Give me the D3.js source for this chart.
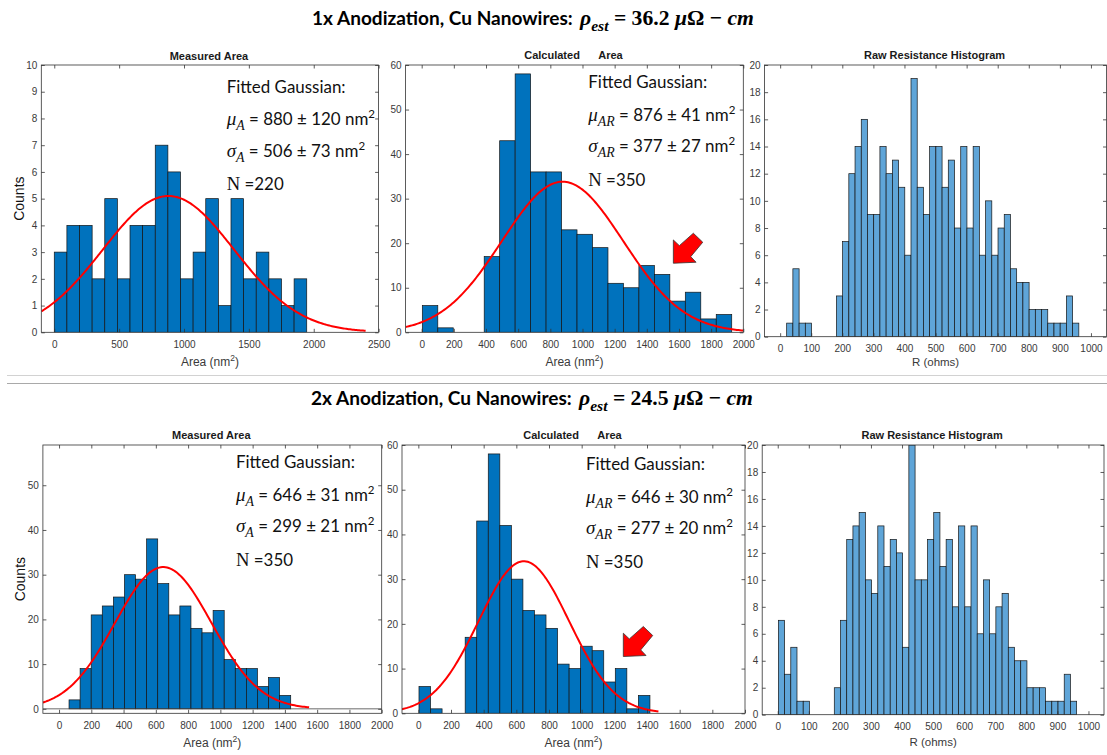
<!DOCTYPE html>
<html><head><meta charset="utf-8">
<script src="https://cdn.jsdelivr.net/npm/d3@7"></script>
<style>
html,body{margin:0;padding:0;background:#fff;}
svg{display:block;background:#fff;}
</style></head><body>
<svg id="chart" width="1107" height="755"></svg>
<script>
// ================= DATA =================
const measured1Counts   = [3,4,4,2,5,2,4,4,7,6,2,3,5,1,5,2,3,2,1,2];
const calculated1Counts = [6,1,0,0,17,43,58,36,36,23,22,19,11,10,15,13,7,9,3,4];
const resistance1Counts = [1,5,1,1,0,0,0,0,3,7,12,14,16,9,9,14,12,13,11,6,19,11,9,14,14,11,13,8,14,8,14,6,10,6,8,9,5,4,4,2,2,2,1,1,1,3,1];
const measured2Counts   = [2,9,21,23,25,30,29,38,28,21,23,18,17,22,11,9,9,5,7,3];
const calculated2Counts = [6,1,0,0,17,43,58,42,30,23,22,19,11,10,15,14,7,10,1,4];
const resistance2Counts = [7,3,5,1,1,0,0,0,0,2,7,13,14,15,10,9,14,11,13,12,5,20,10,10,13,15,11,13,8,14,8,14,6,10,6,8,9,5,4,4,2,2,2,1,1,1,3,1];
const binStart = [0, 4, 21, 62, 4, 2];
const binWidth = [97.3, 96.2, 20, 68.7, 70.7, 20];

// Fitted Gaussians (area panels: measured1, calculated1, measured2, calculated2)
const fitMu    = [880, 876, 646, 646];
const fitSigma = [506, 377, 299, 277];
const fitPeak  = [5.1, 33.8, 31.7, 34.0];
const fitXMin  = [-100, -100, -100, -100];
const fitXMax  = [2400, 2000, 1550, 1470];

// Arrows (tip in data coordinates) for calculated panels
const arrowTipX = [1565, 1255];
const arrowTipY = [15.5, 12.7];

// Tick labels
const xTicksArea1 = [0,500,1000,1500,2000,2500];
const xTicksArea  = [0,200,400,600,800,1000,1200,1400,1600,1800,2000];
const xTicksR     = [0,100,200,300,400,500,600,700,800,900,1000];
const yTicksM1    = [0,1,2,3,4,5,6,7,8,9,10];
const yTicksM2    = [0,10,20,30,40,50];
const yTicks60    = [0,10,20,30,40,50,60];
const yTicksR     = [0,2,4,6,8,10,12,14,16,18,20];

// Texts
const rowTitles   = ["1x Anodization, Cu Nanowires:", "2x Anodization, Cu Nanowires:"];
const rhoValues   = ["36.2", "24.5"];
const panelTitles = ["Measured Area","Calculated\u00A0\u00A0\u00A0\u00A0\u00A0\u00A0Area","Raw Resistance Histogram",
                     "Measured Area","Calculated\u00A0\u00A0\u00A0\u00A0\u00A0\u00A0Area","Raw Resistance Histogram"];
const fitHeader = "Fitted Gaussian:";
const fitSub    = ["A","AR","A","AR"];
const muText    = ["880 ± 120","876 ± 41","646 ± 31","646 ± 30"];
const sigmaText = ["506 ± 73","377 ± 27","299 ± 21","277 ± 20"];
const nText     = ["220","350","350","350"];

// ================= LAYOUT / STYLE =================
const SANS  = "'Liberation Sans', Arial, sans-serif";
const CAL   = "Lato, 'Open Sans', sans-serif";
const SERIF = "'Liberation Serif', 'DejaVu Serif', serif";
const AREA_BLUE = "#0072BD", RES_BLUE = "#5fa5d8";

const layout = [
  {x0:41.3, x1:378.6, y0:65,  y1:332.3, xDom:[-100,2500], yDom:[0,10],  fill:AREA_BLUE, xlab:"area", xlabY:361.7, ylabX:19.3},
  {x0:405.6,x1:743.3, y0:65,  y1:332.3, xDom:[-100,2000], yDom:[0,60],  fill:AREA_BLUE, xlab:"area", xlabY:361.7},
  {x0:764.6,x1:1106.5,y0:65,  y1:336.7, xDom:[-50,1050],  yDom:[0,20],  fill:RES_BLUE,  xlab:"res",  xlabY:361.7},
  {x0:42.9, x1:381.7, y0:445, y1:713.3, xDom:[-100,2000], yDom:[-1,59], fill:AREA_BLUE, xlab:"area", xlabY:742.7, ylabX:20},
  {x0:402,  x1:745,   y0:445, y1:713.3, xDom:[-100,2000], yDom:[0,60],  fill:AREA_BLUE, xlab:"area", xlabY:742.7},
  {x0:762.2,x1:1104,  y0:445, y1:714.7, xDom:[-50,1050],  yDom:[0,20],  fill:RES_BLUE,  xlab:"res",  xlabY:741.7}
];
const titleYs = [55.7, 55, 55, 435, 435, 435];
const panelCounts = [measured1Counts, calculated1Counts, resistance1Counts, measured2Counts, calculated2Counts, resistance2Counts];
const panelXTicks = [xTicksArea1, xTicksArea, xTicksR, xTicksArea, xTicksArea, xTicksR];
const panelYTicks = [yTicksM1, yTicks60, yTicksR, yTicksM2, yTicks60, yTicksR];
const fitPanel = [0, 1, 3, 4];
const arrowPanel = [1, 4];
const annoX = [226.7, 588.3, 236, 586];
const annoY = [92.7, 88.3, 468.3, 470];
const annoDy = [0, 32.5, 64, 97.5];

const svg = d3.select('#chart');
const TICK = 3.5;
const scales = [];

layout.forEach((L, i) => {
  const g = svg.append('g');
  const xs = d3.scaleLinear().domain(L.xDom).range([L.x0, L.x1]);
  const ys = d3.scaleLinear().domain(L.yDom).range([L.y1, L.y0]);
  scales.push({xs, ys});
  const clipId = 'clip' + i;
  svg.append('clipPath').attr('id', clipId).append('rect')
    .attr('x', L.x0).attr('y', L.y0).attr('width', L.x1 - L.x0).attr('height', L.y1 - L.y0);
  const plot = g.append('g').attr('clip-path', `url(#${clipId})`);

  const bins = panelCounts[i].map((c, k) => ({c, a: binStart[i] + k * binWidth[i], b: binStart[i] + (k + 1) * binWidth[i]}))
    .filter(d => d.c > 0);
  plot.selectAll('rect.bar').data(bins).join('rect').attr('class', 'bar')
    .attr('x', d => xs(d.a)).attr('width', d => xs(d.b) - xs(d.a))
    .attr('y', d => ys(d.c)).attr('height', d => ys(0) - ys(d.c))
    .attr('fill', L.fill).attr('stroke', '#151515').attr('stroke-width', 0.7);

  if (L.yDom[0] < 0) {
    plot.append('line').attr('x1', L.x0).attr('x2', L.x1).attr('y1', ys(0)).attr('y2', ys(0))
      .attr('stroke', '#444').attr('stroke-width', 0.8);
  }

  const fi = fitPanel.indexOf(i);
  if (fi >= 0) {
    const pts = d3.range(fitXMin[fi], fitXMax[fi] + 0.1, 10).map(x =>
      [x, fitPeak[fi] * Math.exp(-((x - fitMu[fi]) ** 2) / (2 * fitSigma[fi] ** 2))]);
    plot.append('path').datum(pts)
      .attr('d', d3.line().x(d => xs(d[0])).y(d => ys(d[1])).curve(d3.curveLinear))
      .attr('fill', 'none').attr('stroke', '#ff0000').attr('stroke-width', 2);
  }

  // axes
  const ax = (axis, transform, labels) => {
    const a = g.append('g').attr('transform', transform).call(axis);
    a.select('.domain').remove();
    a.selectAll('.tick line').attr('stroke', '#333').attr('stroke-width', 0.8);
    a.selectAll('.tick text').attr('font-family', SANS).attr('font-size', 10).attr('fill', '#3a3a3a');
    if (!labels) a.selectAll('.tick text').remove();
    return a;
  };
  ax(d3.axisBottom(xs).tickValues(panelXTicks[i]).tickSize(-TICK).tickPadding(8.5).tickFormat(d3.format('d')),
     `translate(0,${L.y1})`, true);
  ax(d3.axisTop(xs).tickValues(panelXTicks[i]).tickSize(-TICK), `translate(0,${L.y0})`, false);
  ax(d3.axisLeft(ys).tickValues(panelYTicks[i]).tickSize(-TICK).tickPadding(4).tickFormat(d3.format('d')),
     `translate(${L.x0},0)`, true);
  ax(d3.axisRight(ys).tickValues(panelYTicks[i]).tickSize(-TICK), `translate(${L.x1},0)`, false);

  g.append('rect').attr('x', L.x0).attr('y', L.y0).attr('width', L.x1 - L.x0).attr('height', L.y1 - L.y0)
    .attr('fill', 'none').attr('stroke', '#333').attr('stroke-width', 0.8);

  // titles & labels
  g.append('text').attr('x', (L.x0 + L.x1) / 2 - 1).attr('y', titleYs[i]).attr('dy', '0.35em')
    .attr('text-anchor', 'middle').attr('font-family', SANS).attr('font-weight', 'bold')
    .attr('font-size', 11).attr('fill', '#1a1a1a').text(panelTitles[i]);

  const xl = g.append('text').attr('x', (L.x0 + L.x1) / 2).attr('y', L.xlabY).attr('dy', '0.35em')
    .attr('text-anchor', 'middle').attr('font-family', SANS).attr('fill', '#3a3a3a');
  if (L.xlab === 'area') {
    xl.attr('font-size', 12);
    xl.append('tspan').text('Area (nm');
    xl.append('tspan').attr('font-size', 8.5).attr('dy', -5).text('2');
    xl.append('tspan').attr('dy', 5).text(')');
  } else {
    xl.attr('font-size', 11.5).text('R (ohms)');
  }
  if (L.ylabX !== undefined) {
    const cy = (L.y0 + L.y1) / 2;
    g.append('text').attr('transform', `translate(${L.ylabX},${cy}) rotate(-90)`).attr('dy', '0.35em')
      .attr('text-anchor', 'middle').attr('font-family', SANS).attr('font-size', 14).attr('fill', '#111')
      .text('Counts');
  }
});

// arrows
const arrowShape = [[0,0],[0,-23.3],[6,-17.6],[20,-30],[29.4,-21],[17.4,-6.6],[22.7,-1]];
arrowPanel.forEach((p, k) => {
  const {xs, ys} = scales[p];
  const tx = xs(arrowTipX[k]), ty = ys(arrowTipY[k]);
  svg.append('polygon').attr('points', arrowShape.map(d => [tx + d[0], ty + d[1]].join(',')).join(' '))
    .attr('fill', '#ff0000').attr('stroke', '#333').attr('stroke-width', 0.8).attr('stroke-linejoin', 'miter');
});

// annotation font size fitted to reference width of header
const probe = svg.append('text').attr('font-family', CAL).attr('font-size', 17).text(fitHeader);
const FS = 17 * 119 / probe.node().getComputedTextLength();
probe.remove();

fitPanel.forEach((p, k) => {
  const x = annoX[k], y0 = annoY[k];
  const g = svg.append('g').attr('fill', '#111');
  g.append('text').attr('x', x).attr('y', y0 + annoDy[0]).attr('font-family', CAL).attr('font-size', FS).text(fitHeader);
  [['μ', muText[k]], ['σ', sigmaText[k]]].forEach((d, j) => {
    const t = g.append('text').attr('x', x).attr('y', y0 + annoDy[j + 1]).attr('font-family', CAL).attr('font-size', FS);
    t.append('tspan').attr('font-family', SERIF).attr('font-style', 'italic').attr('font-size', FS * 1.12).text(d[0]);
    t.append('tspan').attr('font-family', SERIF).attr('font-style', 'italic').attr('font-size', FS * 0.82).attr('dy', 5).text(fitSub[k]);
    t.append('tspan').attr('dy', -5).text(' = ' + d[1] + ' nm');
    t.append('tspan').attr('font-size', FS * 0.68).attr('dy', -7).text('2');
  });
  const tn = g.append('text').attr('x', x).attr('y', y0 + annoDy[3]).attr('font-family', CAL).attr('font-size', FS);
  tn.append('tspan').attr('font-family', SERIF).attr('font-size', FS * 1.1).text('N');
  tn.append('tspan').text(' =' + nText[k]);
});

// row titles
const titleBase = [25, 405];
const titleX0 = [312, 311];
rowTitles.forEach((s, r) => {
  const pr = svg.append('text').attr('font-family', CAL).attr('font-weight', 'bold').attr('font-size', 18).text(s);
  const ts = 18 * 261 / pr.node().getComputedTextLength();
  pr.remove();
  svg.append('text').attr('x', titleX0[r]).attr('y', titleBase[r]).attr('font-family', CAL)
    .attr('font-weight', 'bold').attr('font-size', ts).attr('fill', '#000').text(s);

  const buildMath = (base) => {
    const t = svg.append('text').attr('x', titleX0[r] + 268).attr('y', titleBase[r]).attr('font-family', SERIF)
      .attr('font-weight', 'bold').attr('font-size', base).attr('fill', '#000');
    t.append('tspan').attr('font-style', 'italic').text('ρ');
    t.append('tspan').attr('font-style', 'italic').attr('font-size', base * 0.72).attr('dy', base * 0.28).text('est');
    t.append('tspan').attr('dy', -base * 0.28).text(' = ' + rhoValues[r] + ' ');
    t.append('tspan').attr('font-style', 'italic').text('μ');
    t.append('tspan').text('Ω − ');
    t.append('tspan').attr('font-style', 'italic').text('cm');
    return t;
  };
  const m0 = buildMath(20);
  const mb = 20 * 174 / m0.node().getComputedTextLength();
  m0.remove();
  buildMath(mb);
});

// separator lines
svg.append('line').attr('x1', 7).attr('x2', 1107).attr('y1', 375.5).attr('y2', 375.5).attr('stroke', '#d2d2d2').attr('stroke-width', 1);
svg.append('line').attr('x1', 7).attr('x2', 1107).attr('y1', 383.5).attr('y2', 383.5).attr('stroke', '#a9a9a9').attr('stroke-width', 1.2);
</script>
</body></html>
